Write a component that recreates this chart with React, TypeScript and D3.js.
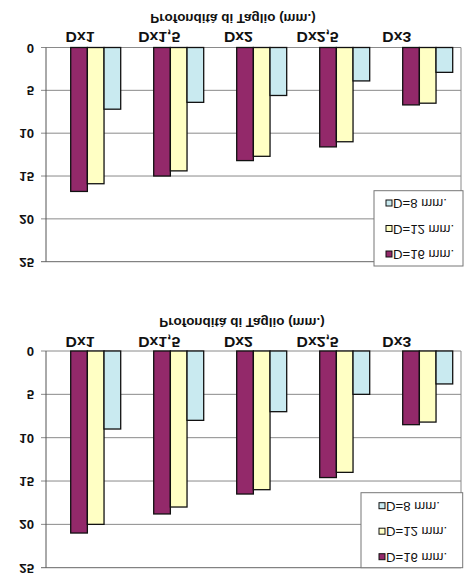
import React from "react";
import * as d3 from "d3";

const categories = ["Dx1", "Dx1,5", "Dx2", "Dx2,5", "Dx3"];
const seriesNames = ["D=16 mm.", "D=12 mm.", "D=8 mm."];
const seriesColors = ["#93296A", "#FFFFC4", "#C9EAF0"];
const legendOrder = [2, 1, 0];
const yTicks = [0, 5, 10, 15, 20, 25];
const titleText = "Profondità di Taglio (mm.)";

const chart1D16 = [16.8, 15.0, 13.2, 11.6, 6.7];
const chart1D12 = [15.9, 14.4, 12.7, 11.0, 6.5];
const chart1D8 = [7.2, 6.4, 5.6, 3.9, 2.9];

const chart2D16 = [21.0, 18.8, 16.5, 14.6, 8.5];
const chart2D12 = [20.0, 18.0, 16.0, 14.0, 8.2];
const chart2D8 = [9.0, 8.0, 7.0, 5.0, 3.8];

const FONT = "Arial, 'Liberation Sans', sans-serif";

type ChartProps = {
  values: number[][];
  zeroY: number;
  maxY: number;
  titleX: number;
  titleY: number;
  catY: number;
  legend: { x: number; y: number; w: number; h: number; firstItem: number; swatchX: number };
};

function FlipText(props: {
  x: number;
  y: number;
  size: number;
  weight?: string;
  anchor?: string;
  sx?: number;
  children: React.ReactNode;
}) {
  const { x, y, size, weight = "normal", anchor = "middle", sx = 1.1, children } = props;
  return (
    <text
      transform={`translate(${x},${y}) scale(${sx},-1)`}
      fontFamily={FONT}
      fontSize={size}
      fontWeight={weight}
      textAnchor={anchor}
      fill="#111"
    >
      {children}
    </text>
  );
}

function Chart({ values, zeroY, maxY, titleX, titleY, catY, legend }: ChartProps) {
  const plotLeft = 46;
  const plotRight = 461;
  const y = d3.scaleLinear().domain([0, 25]).range([zeroY, maxY]);
  const x = d3.scaleBand<string>().domain(categories).range([54.2, 469.2]).paddingInner(0);
  const xLabel = d3.scalePoint<string>().domain(categories).range([80, 396.8]);
  const inner = d3.scaleBand<number>().domain([0, 1, 2]).range([-25, 25]);

  return (
    <g>
      {yTicks.map((t) => (
        <g key={t}>
          <line
            x1={plotLeft - 5}
            x2={plotRight}
            y1={y(t)}
            y2={y(t)}
            stroke={t === 25 ? "#666" : "#8a8a8a"}
            strokeWidth={1}
          />
          <FlipText x={34} y={y(t) - 4} size={12} weight="bold" anchor="end">
            {String(t)}
          </FlipText>
        </g>
      ))}
      <line x1={plotLeft} x2={plotLeft} y1={zeroY} y2={maxY} stroke="#555" strokeWidth={1} />
      <line x1={plotRight} x2={plotRight} y1={zeroY} y2={maxY} stroke="#8a8a8a" strokeWidth={1} />

      {categories.map((c, ci) =>
        values.map((s, si) => (
          <rect
            key={`${c}-${si}`}
            x={(x(c) ?? 0) + x.bandwidth() / 2 + (inner(si) ?? 0)}
            y={y(0)}
            width={inner.bandwidth()}
            height={y(s[ci]) - y(0)}
            fill={seriesColors[si]}
            stroke="#111"
            strokeWidth={1.3}
          />
        ))
      )}

      {categories.map((c) => (
        <FlipText key={c} x={xLabel(c) ?? 0} y={catY} size={15} weight="bold" sx={1.05}>
          {c}
        </FlipText>
      ))}

      <FlipText x={titleX} y={titleY} size={12} weight="bold" sx={1.12}>
        {titleText}
      </FlipText>

      <rect x={legend.x} y={legend.y} width={legend.w} height={legend.h} fill="#fff" stroke="#777" strokeWidth={1} />
      {legendOrder.map((si, i) => {
        const cy = legend.firstItem + i * 25.5;
        return (
          <g key={si}>
            <rect x={legend.swatchX} y={cy - 3} width={6} height={6} fill={seriesColors[si]} stroke="#111" strokeWidth={1} />
            <FlipText x={legend.swatchX + 7} y={cy - 4} size={12} anchor="start" sx={1.1}>
              {seriesNames[si]}
            </FlipText>
          </g>
        );
      })}
    </g>
  );
}

export default function App() {
  return (
    <svg
      width={471}
      height={585}
      style={{ position: "absolute", left: 0, top: 0, background: "#fff" }}
    >
      <rect x={0} y={0} width={471} height={585} fill="#fff" />
      <Chart
        values={[chart1D16, chart1D12, chart1D8]}
        zeroY={47.5}
        maxY={261.7}
        titleX={233}
        titleY={14}
        catY={32}
        legend={{ x: 374, y: 190.7, w: 89, h: 75.3, firstItem: 203, swatchX: 386 }}
      />
      <Chart
        values={[chart2D16, chart2D12, chart2D8]}
        zeroY={351}
        maxY={567.7}
        titleX={242}
        titleY={317.5}
        catY={336.7}
        legend={{ x: 361, y: 492.7, w: 101.7, h: 75, firstItem: 505.7, swatchX: 379 }}
      />
    </svg>
  );
}
